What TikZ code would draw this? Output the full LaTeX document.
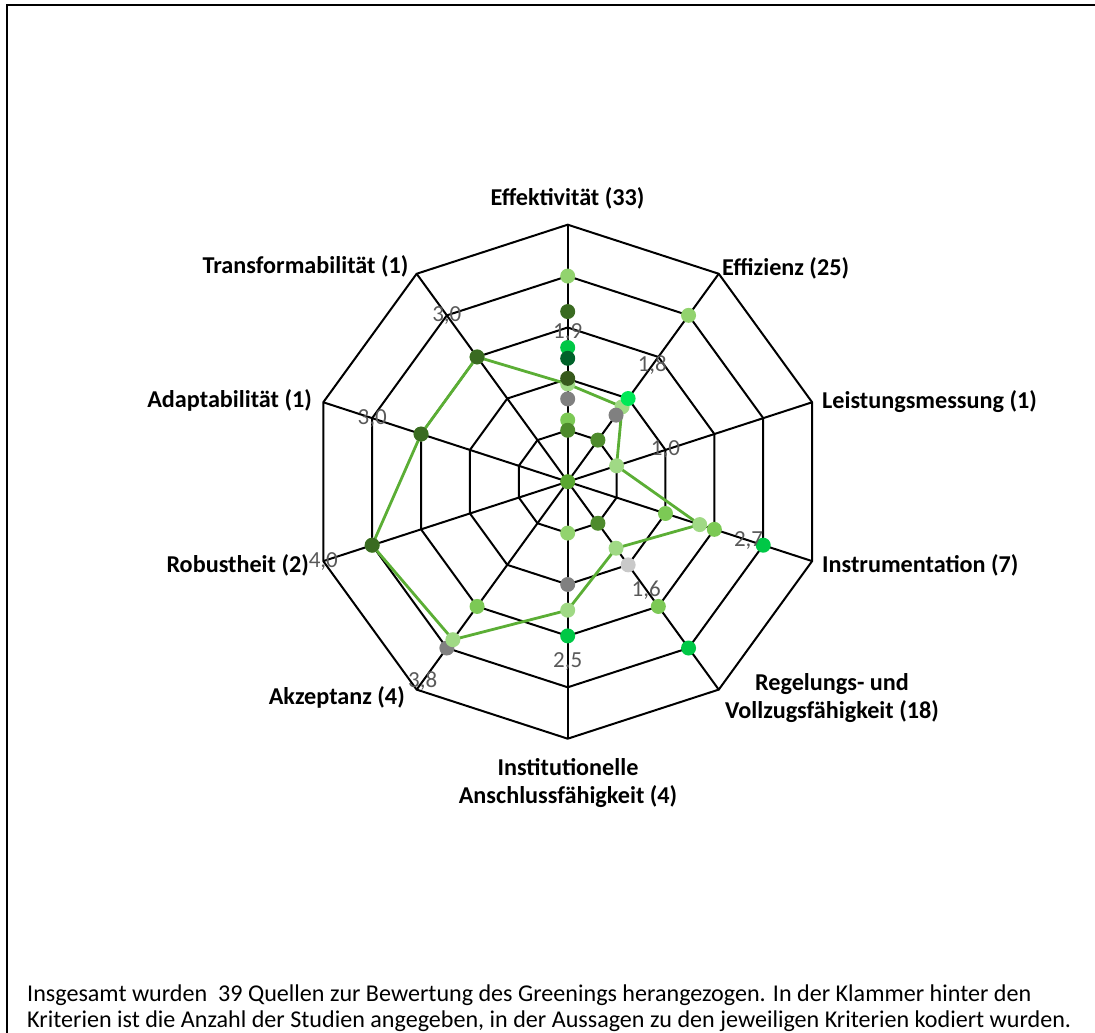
\documentclass[tikz,border=0pt]{standalone}
\usepackage{fontspec}
\setmainfont{Carlito}
\usetikzlibrary{positioning}

\definecolor{lineg}{HTML}{5BAE35}
\definecolor{meanfill}{HTML}{A0D985}
\definecolor{glight}{HTML}{92D36E}
\definecolor{gmid}{HTML}{7CC955}
\definecolor{gdark}{HTML}{3A6B21}
\definecolor{golive}{HTML}{375A1C}
\definecolor{gvdark}{HTML}{00622A}
\definecolor{gbright}{HTML}{00C846}
\definecolor{gbrighter}{HTML}{00E856}
\definecolor{ggrey}{HTML}{808080}
\definecolor{glgrey}{HTML}{C9C9C9}
\definecolor{gmed}{HTML}{4E8B2C}
\definecolor{gcenter}{HTML}{5AA731}
\definecolor{valgrey}{HTML}{595959}

\tikzset{
  web/.style={line width=2pt, line join=miter},
  dot/.style={circle, fill=#1, inner sep=0pt, minimum size=15pt},
  mean line/.style={line width=2.8pt, color=lineg, line join=round},
  crit/.style={font=\fontsize{24.2}{28}\selectfont\bfseries, inner sep=0pt, align=center},
  val/.style={font=\fontsize{23}{27}\selectfont, text=valgrey, inner sep=0pt},
}

\begin{document}
\begin{tikzpicture}[x=1pt,y=1pt]
\useasboundingbox (0,0) rectangle (1095,1033);
% frame
\draw[line width=2pt] (6.5,-5) -- (6.5,1027.5) -- (1100,1027.5);

\begin{scope}[shift={(567.7,551.3)}, x=51.4pt, y=51.4pt]
  % web
  \foreach \r in {1,...,5}
    \draw[web] (90:\r) \foreach \a in {54,18,...,-234} { -- (\a:\r) } -- cycle;
  \foreach \a in {90,54,...,-234}
    \draw[web] (0,0) -- (\a:5);

  % mean values
  \foreach \a/\v [count=\i] in {90/1.9,54/1.8,18/1.0,-18/2.7,-54/1.6,-90/2.5,-126/3.8,-162/4.0,-198/3.0,-234/3.0}
    \coordinate (p\i) at (\a:\v);

  \node[dot=ggrey] (akz4) at (-126:4.0) {};
  \draw[mean line] (p1) -- (p2) -- (p3) -- (p4) -- (p5) -- (p6) -- (p7) -- (p8) -- (p9) -- (p10) -- cycle;
  \foreach \i in {1,...,10}
    \node[dot=meanfill] (m\i) at (p\i) {};

  % single series
  \foreach \a/\v/\c [count=\i] in {
      90/4.0/glight, 90/3.31/gdark, 90/2.61/gbright, 90/2.4/gvdark, 90/2.01/golive,
      90/1.61/ggrey, 90/1.2/gmid, 90/1.0/gmed,
      54/4.0/glight, 54/2.0/gbrighter, 54/1.6/ggrey, 54/1.0/gmed,
      -18/2.0/gmid, -18/3.0/gmid, -18/4.0/gbright,
      -54/1.0/gmed, -54/2.0/glgrey, -54/3.0/gmid, -54/4.0/gbright,
      -90/1.0/glight, -90/2.0/ggrey, -90/3.0/gbright,
      -126/3.0/gmid,
      -162/4.0/gdark, -198/3.0/gdark, -234/3.0/gdark}
    \node[dot=\c] (d\i) at (\a:\v) {};
  \node[dot=gcenter] (ctr) at (0,0) {};

  % value labels
  \foreach \a/\v/\t [count=\i] in {90/1.9/1{,}9, 54/1.8/1{,}8, 18/1.0/1{,}0, -18/2.7/2{,}7,
      -54/1.6/1{,}6, -90/2.5/2{,}5, -126/3.8/3{,}8, -162/4.0/4{,}0, -198/3.0/3{,}0, -234/3.0/3{,}0}
    \node[val] (v\i) at (\a:{\v+1}) {\t};
\end{scope}

% criteria
\node[crit] (effek) at (567.5,835) {Effektivität (33)};
\node[crit, anchor=west] (effiz) at (722,765) {Effizienz (25)};
\node[crit, anchor=west] (leist) at (822,631) {Leistungsmessung (1)};
\node[crit, anchor=west] (instr) at (822,468) {Instrumentation (7)};
\node[crit] (regel) at (832,334.7) {Regelungs- und\\Vollzugsfähigkeit (18)};
\node[crit] (insti) at (568,249.5) {Institutionelle\\Anschlussfähigkeit (4)};
\node[crit, anchor=east] (akzep) at (405,336) {Akzeptanz (4)};
\node[crit, anchor=east] (robus) at (309,468) {Robustheit (2)};
\node[crit, anchor=east] (adapt) at (312,633) {Adaptabilität (1)};
\node[crit, anchor=east] (trans) at (408.5,767) {Transformabilität (1)};

% note
\node[anchor=base west, align=left, inner sep=0pt, font=\fontsize{24.1}{25.6}\selectfont] (note) at (27,5.7)
  {Insgesamt wurden\ \ 39 Quellen zur Bewertung des Greenings herangezogen. In der Klammer hinter den\\
   Kriterien ist die Anzahl der Studien angegeben, in der Aussagen zu den jeweiligen Kriterien kodiert wurden.};
\end{tikzpicture}
\end{document}
